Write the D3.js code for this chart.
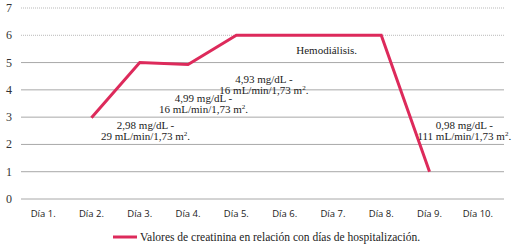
<!DOCTYPE html>
<html>
<head>
<meta charset="utf-8">
<script src="https://cdn.jsdelivr.net/npm/d3@7"></script>
<style>
  body { margin: 0; background: #fff; }
  svg { display: block; }
  .serif { font-family: 'Liberation Serif', 'DejaVu Serif', serif; }
  .sans { font-family: 'Open Sans', 'Liberation Sans', sans-serif; }
</style>
</head>
<body>
<div id="chart"></div>
<script>
const days = ["Día 1.", "Día 2.", "Día 3.", "Día 4.", "Día 5.", "Día 6.", "Día 7.", "Día 8.", "Día 9.", "Día 10."];
const creatinine = [null, 2.98, 5, 4.93, 6, 6, 6, 6, 1, null];
const yTicks = [0, 1, 2, 3, 4, 5, 6, 7];
const notes = [
  { day: "Día 3.", shift: 0.12, y: 2.58, lines: ["2,98 mg/dL -", "29 mL/min/1,73 m"], sup: true },
  { day: "Día 4.", shift: 0.32, y: 3.55, lines: ["4,99 mg/dL -", "16 mL/min/1,73 m"], sup: true },
  { day: "Día 5.", shift: 0.57, y: 4.24, lines: ["4,93 mg/dL -", "16 mL/min/1,73 m"], sup: true },
  { day: "Día 6.", shift: 0.87, y: 5.3, lines: ["Hemodiálisis."], sup: false },
  { day: "Día 9.", shift: 0.72, y: 2.58, lines: ["0,98 mg/dL -", "111 mL/min/1,73 m"], sup: true }
];
const legendText = "Valores de creatinina en relación con días de hospitalización.";

const width = 514, height = 247;
const margin = { top: 8, right: 10, bottom: 48, left: 21 };
const lineColor = "#dd2a5b";

let svg = d3.select("#chart").append("svg")
  .attr("width", width)
  .attr("height", height);

let x = d3.scaleBand()
  .domain(days)
  .range([margin.left, width - margin.right]);

let y = d3.scaleLinear()
  .domain([0, 7])
  .range([height - margin.bottom, margin.top]);

let cx = d => x(d) + x.bandwidth() / 2 - 2;

//grid lines
svg.append("g").selectAll("line")
  .data(yTicks)
  .join("line")
  .attr("x1", margin.left)
  .attr("x2", width - margin.right)
  .attr("y1", d => y(d))
  .attr("y2", d => y(d))
  .attr("stroke", d => d >= 6 ? "#b9b9b9" : "#a8a8a8")
  .attr("stroke-width", 1)
  .attr("stroke-dasharray", d => d >= 6 ? "1,1" : null);

//y labels
svg.append("g").selectAll("text")
  .data(yTicks)
  .join("text")
  .attr("class", "serif")
  .attr("x", 9)
  .attr("y", d => y(d) + 4)
  .attr("text-anchor", "middle")
  .attr("font-size", 12)
  .attr("fill", "#333")
  .text(d => d);

//x labels
svg.append("g").selectAll("text")
  .data(days)
  .join("text")
  .attr("class", "sans")
  .attr("x", d => cx(d))
  .attr("y", y(0) + 18)
  .attr("text-anchor", "middle")
  .attr("font-size", 9.5)
  .attr("fill", "#222")
  .text(d => d);

//line
let line = d3.line()
  .defined(d => d.v !== null)
  .x(d => cx(d.day))
  .y(d => y(d.v));

svg.append("path")
  .datum(days.map((d, i) => ({ day: d, v: creatinine[i] })))
  .attr("d", line)
  .attr("fill", "none")
  .attr("stroke", lineColor)
  .attr("stroke-width", 3)
  .attr("stroke-linejoin", "miter");

//annotations
let noteG = svg.append("g")
  .attr("class", "serif")
  .attr("font-size", 11)
  .attr("fill", "#222");

notes.forEach(n => {
  let nx = cx(n.day) + n.shift * x.step();
  let t = noteG.append("text")
    .attr("text-anchor", "middle")
    .attr("x", nx)
    .attr("y", y(n.y));
  n.lines.forEach((l, i) => {
    t.append("tspan")
      .attr("x", nx)
      .attr("dy", i === 0 ? 0 : 11)
      .text(l);
    if (n.sup && i === n.lines.length - 1) {
      t.append("tspan").attr("dy", -4).attr("font-size", 7).text("2");
      t.append("tspan").attr("dy", 4).text(".");
    }
  });
});

//legend
let lg = svg.append("g").attr("transform", `translate(113, ${height - 10})`);
lg.append("line")
  .attr("x1", 0).attr("x2", 24)
  .attr("stroke", lineColor)
  .attr("stroke-width", 3);
lg.append("text")
  .attr("class", "serif")
  .attr("x", 27)
  .attr("y", 4)
  .attr("font-size", 11.5)
  .attr("fill", "#222")
  .text(legendText);
</script>
</body>
</html>
